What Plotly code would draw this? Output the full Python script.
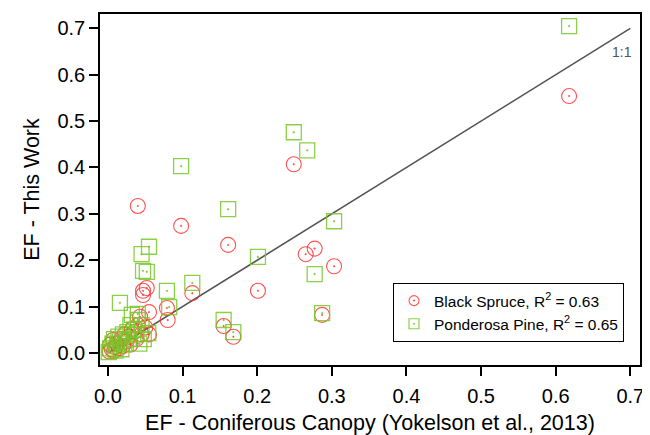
import plotly.graph_objects as go

# Black Spruce (x: Coniferous canopy EF, y: this work EF)
spruce_x = [0.618, 0.249, 0.040, 0.098, 0.161, 0.265, 0.277, 0.303, 0.201, 0.287,
            0.155, 0.168, 0.052, 0.047, 0.047, 0.113, 0.079, 0.055, 0.080, 0.043,
            0.002, 0.005, 0.008, 0.010, 0.012, 0.015, 0.018, 0.020, 0.022, 0.025,
            0.028, 0.030, 0.032, 0.035, 0.038, 0.040, 0.045, 0.050, 0.055, 0.003, 0.007]
spruce_y = [0.554, 0.407, 0.317, 0.274, 0.233, 0.213, 0.225, 0.187, 0.134, 0.082,
            0.058, 0.035, 0.140, 0.134, 0.125, 0.129, 0.097, 0.088, 0.071, 0.078,
            0.003, 0.008, 0.004, 0.012, 0.020, 0.010, 0.030, 0.015, 0.040, 0.025,
            0.035, 0.018, 0.050, 0.045, 0.030, 0.060, 0.040, 0.055, 0.040, 0.018, 0.028]

# Ponderosa Pine
pine_x = [0.618, 0.249, 0.267, 0.098, 0.161, 0.303, 0.201, 0.277, 0.287, 0.155,
          0.168, 0.055, 0.045, 0.047, 0.052, 0.079, 0.113, 0.016, 0.082, 0.040,
          0.032, 0.001, 0.003, 0.006, 0.008, 0.010, 0.012, 0.014, 0.016, 0.018,
          0.020, 0.024, 0.026, 0.028, 0.030, 0.035, 0.038, 0.040, 0.042, 0.045,
          0.054, 0.048]
pine_y = [0.705, 0.476, 0.437, 0.403, 0.310, 0.284, 0.207, 0.170, 0.086, 0.071,
          0.045, 0.229, 0.213, 0.177, 0.175, 0.134, 0.151, 0.108, 0.099, 0.084,
          0.082, 0.002, 0.010, 0.020, 0.030, 0.005, 0.015, 0.035, 0.025, 0.008,
          0.040, 0.020, 0.045, 0.030, 0.060, 0.050, 0.040, 0.071, 0.020, 0.060,
          0.043, 0.030]

line_x = [0.0, 0.7]
line_y = [0.0, 0.7]

x_ticks = [0.0, 0.1, 0.2, 0.3, 0.4, 0.5, 0.6, 0.7]
y_ticks = [0.0, 0.1, 0.2, 0.3, 0.4, 0.5, 0.6, 0.7]

red = "rgba(255,50,50,0.85)"
green = "rgba(120,200,40,0.85)"

fig = go.Figure()
fig.add_trace(go.Scatter(x=line_x, y=line_y, mode="lines",
                         line=dict(color="#555555", width=1.6), showlegend=False,
                         hoverinfo="skip"))
fig.add_trace(go.Scatter(x=spruce_x, y=spruce_y, mode="markers", showlegend=False,
                         name="Black Spruce",
                         marker=dict(symbol="circle-open-dot", size=15, color=red,
                                     line=dict(width=1.1, color=red))))
fig.add_trace(go.Scatter(x=pine_x, y=pine_y, mode="markers", showlegend=False,
                         name="Ponderosa Pine",
                         marker=dict(symbol="square-open-dot", size=15, color=green,
                                     line=dict(width=1.3, color=green))))
# legend entries with smaller symbols (as in the reference legend)
fig.add_trace(go.Scatter(x=[None], y=[None], mode="markers",
                         name="Black Spruce, R<sup>2</sup> = 0.63",
                         marker=dict(symbol="circle-open-dot", size=10, color=red,
                                     line=dict(width=1.1, color=red))))
fig.add_trace(go.Scatter(x=[None], y=[None], mode="markers",
                         name="Ponderosa Pine, R<sup>2</sup> = 0.65",
                         marker=dict(symbol="square-open-dot", size=10, color=green,
                                     line=dict(width=1.2, color=green))))

fig.add_annotation(x=0.705, y=0.648, text="1:1", showarrow=False, xanchor="right",
                   font=dict(size=14, color="#555555"))

axis_common = dict(showgrid=False, zeroline=False, showline=True, linecolor="black",
                   linewidth=1.5, mirror=True, ticks="outside", ticklen=9, tickwidth=1.5,
                   tickcolor="black", tickfont=dict(size=20, color="black"),
                   automargin=False)

fig.update_xaxes(range=[-0.0107, 0.713], tickvals=x_ticks,
                 ticktext=[f"{v:.1f}" for v in x_ticks],
                 ticklabelstandoff=3,
                 title=dict(text="EF - Coniferous Canopy (Yokelson et al., 2013)",
                            font=dict(size=21.5, color="black"), standoff=10),
                 **axis_common)
fig.update_yaxes(range=[-0.026, 0.731], tickvals=y_ticks,
                 ticktext=[f"{v:.1f}" for v in y_ticks],
                 title=dict(text="EF - This Work", font=dict(size=21.5, color="black"),
                            standoff=12),
                 **axis_common)

# page body has an 8px margin, so the figure is 642x427 to fill the 650x435 window
fig.update_layout(
    width=642, height=427,
    margin=dict(l=92, r=10, t=6, b=70),
    plot_bgcolor="white", paper_bgcolor="white",
    font=dict(family="Liberation Sans, Arial, sans-serif", color="black"),
    legend=dict(x=0.5426, y=0.0655, xanchor="left", yanchor="bottom",
                bordercolor="black", borderwidth=1, bgcolor="white",
                font=dict(size=15.5), itemwidth=30, tracegroupgap=0),
)

fig.write_html("out.html")
